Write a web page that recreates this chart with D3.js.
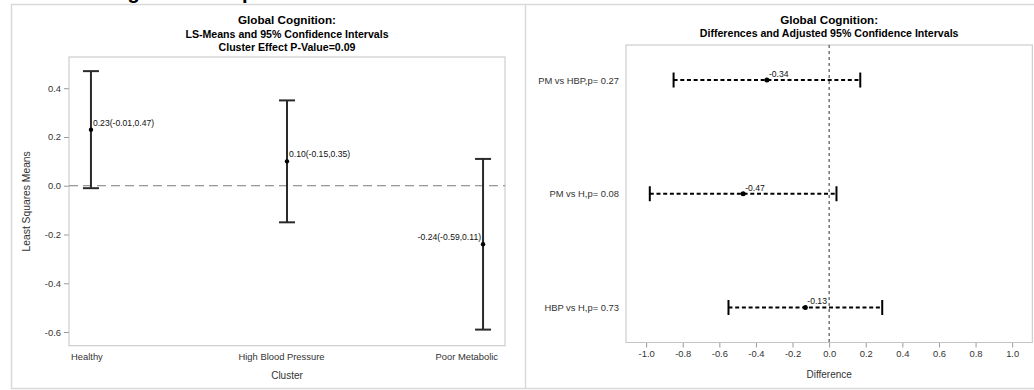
<!DOCTYPE html>
<html>
<head>
<meta charset="utf-8">
<script src="https://cdn.jsdelivr.net/npm/d3@7"></script>
<style>
  html, body { margin: 0; padding: 0; background: #fff; }
  svg { display: block; font-family: "Liberation Sans", Arial, sans-serif; }
</style>
</head>
<body>
<svg id="chart" width="1034" height="390"></svg>
<script>
// Least-squares means by cluster, with 95% confidence limits
const clusters = ["Healthy", "High Blood Pressure", "Poor Metabolic"];
const lsMeans = [0.23, 0.10, -0.24];
const lsLower = [-0.01, -0.15, -0.59];
const lsUpper = [0.47, 0.35, 0.11];
const lsTicks = [-0.6, -0.4, -0.2, 0.0, 0.2, 0.4];

// Pairwise differences with adjusted 95% confidence limits
const comparisons = ["PM vs HBP", "PM vs H", "HBP vs H"];
const pValues = ["0.27", "0.08", "0.73"];
const diffs = [-0.34, -0.47, -0.13];
const diffLower = [-0.85, -0.98, -0.55];
const diffUpper = [0.17, 0.04, 0.29];
const diffTicks = [-1.0, -0.8, -0.6, -0.4, -0.2, 0.0, 0.2, 0.4, 0.6, 0.8, 1.0];

const svg = d3.select("#chart");
const fmt1 = d => d.toFixed(1);
const fmt2 = d => d.toFixed(2);

// Page title (sits above the top edge of the page)
svg.append("text")
  .attr("x", 33).attr("y", -1)
  .attr("font-size", 20).attr("font-weight", "bold").attr("fill", "#000")
  .text("Global Cognitive Composite");

// Outer frames
const frame = svg.append("g").attr("stroke", "#d9d9d9").attr("stroke-width", 1.5).attr("fill", "none");
frame.append("line").attr("x1", 11).attr("x2", 1034).attr("y1", 4.5).attr("y2", 4.5);
frame.append("line").attr("x1", 11).attr("x2", 1034).attr("y1", 388.5).attr("y2", 388.5);
frame.append("line").attr("x1", 11.5).attr("x2", 11.5).attr("y1", 4).attr("y2", 389);
frame.append("line").attr("x1", 525.5).attr("x2", 525.5).attr("y1", 4).attr("y2", 389);

// ---------------- Left panel: LS-means ----------------
const L = { left: 69, right: 505, top: 57, bottom: 345.7 };
const xL = d3.scalePoint().domain(clusters).range([L.left, L.right]).padding(0.112);
const yL = d3.scaleLinear().domain([-0.656, 0.528]).range([L.bottom, L.top]);

const left = svg.append("g");
const titleL = left.append("g").attr("text-anchor", "middle").attr("font-weight", "bold").attr("fill", "#000");
const cxL = (L.left + L.right) / 2;
titleL.append("text").attr("x", cxL).attr("y", 24).attr("font-size", 11.7).text("Global Cognition:");
titleL.append("text").attr("x", cxL).attr("y", 37.5).attr("font-size", 10.6).text("LS-Means and 95% Confidence Intervals");
titleL.append("text").attr("x", cxL).attr("y", 50.5).attr("font-size", 10.6).text("Cluster Effect P-Value=0.09");

// y axis
const yAxisL = left.append("g").attr("transform", `translate(${L.left},0)`)
  .call(d3.axisLeft(yL).tickValues(lsTicks).tickFormat(fmt1).tickSize(5).tickPadding(3));
yAxisL.select(".domain").remove();
yAxisL.selectAll("line").attr("stroke", "#999");
yAxisL.selectAll("text").attr("font-size", 9.4).attr("fill", "#333").attr("font-family", null);

// x axis (category labels kept inside the plot width)
const xAxisL = left.append("g").attr("transform", `translate(0,${L.bottom})`)
  .call(d3.axisBottom(xL).tickSize(0).tickPadding(8));
xAxisL.select(".domain").remove();
xAxisL.selectAll("text").attr("font-size", 9.4).attr("fill", "#333").attr("font-family", null)
  .each(function () {
    const t = d3.select(this);
    const tx = +d3.select(this.parentNode).attr("transform").match(/translate\(([^,]+)/)[1];
    const w = this.getComputedTextLength();
    const maxRight = L.right - 7, minLeft = L.left + 2;
    let dx = -6;
    if (tx + dx + w / 2 > maxRight) dx = maxRight - (tx + w / 2);
    if (tx + dx - w / 2 < minLeft) dx = minLeft - (tx - w / 2);
    t.attr("dx", dx);
  });

// plot frame
left.append("rect")
  .attr("x", L.left).attr("y", L.top)
  .attr("width", L.right - L.left).attr("height", L.bottom - L.top)
  .attr("fill", "none").attr("stroke", "#c4c4c4").attr("stroke-width", 1);

// zero reference
left.append("line")
  .attr("x1", L.left).attr("x2", L.right)
  .attr("y1", yL(0)).attr("y2", yL(0))
  .attr("stroke", "#7a7a7a").attr("stroke-width", 1).attr("stroke-dasharray", "9,5");

// axis titles
left.append("text")
  .attr("transform", `translate(30,${(L.top + L.bottom) / 2}) rotate(-90)`)
  .attr("text-anchor", "middle").attr("font-size", 10.3).attr("fill", "#333")
  .text("Least Squares Means");
left.append("text")
  .attr("x", cxL).attr("y", 378.5)
  .attr("text-anchor", "middle").attr("font-size", 10).attr("fill", "#333")
  .text("Cluster");

// error bars
const lsData = clusters.map((c, i) => ({ c, m: lsMeans[i], lo: lsLower[i], hi: lsUpper[i] }));
const bars = left.append("g").attr("stroke", "#2a2a2a").attr("stroke-width", 2);
lsData.forEach(d => {
  const x = xL(d.c);
  bars.append("line").attr("x1", x).attr("x2", x).attr("y1", yL(d.lo)).attr("y2", yL(d.hi));
  bars.append("line").attr("x1", x - 8).attr("x2", x + 8).attr("y1", yL(d.lo)).attr("y2", yL(d.lo));
  bars.append("line").attr("x1", x - 8).attr("x2", x + 8).attr("y1", yL(d.hi)).attr("y2", yL(d.hi));
});
left.append("g").selectAll("circle").data(lsData).join("circle")
  .attr("cx", d => xL(d.c)).attr("cy", d => yL(d.m)).attr("r", 2.2).attr("fill", "#000");

// value labels
left.append("g").selectAll("text").data(lsData).join("text")
  .attr("font-size", 8.6).attr("fill", "#111")
  .attr("text-anchor", (d, i) => i === lsData.length - 1 ? "end" : "start")
  .attr("x", (d, i) => xL(d.c) + (i === lsData.length - 1 ? -2 : 2))
  .attr("y", d => yL(d.m) - 4)
  .text(d => `${fmt2(d.m)}(${fmt2(d.lo)},${fmt2(d.hi)})`);

// ---------------- Right panel: differences ----------------
const R = { left: 626, right: 1032.3, top: 45, bottom: 342.5 };
const labels = comparisons.map((c, i) => `${c},p= ${pValues[i]}`);
const xR = d3.scaleLinear().domain([-1.11, 1.11]).range([R.left, R.right]);
const yR = d3.scalePoint().domain(labels).range([R.top, R.bottom]).padding(0.308);

const right = svg.append("g");
const cxR = (R.left + R.right) / 2;
const titleR = right.append("g").attr("text-anchor", "middle").attr("font-weight", "bold").attr("fill", "#000");
titleR.append("text").attr("x", cxR).attr("y", 24).attr("font-size", 11.7).text("Global Cognition:");
titleR.append("text").attr("x", cxR).attr("y", 37).attr("font-size", 10.6).text("Differences and Adjusted 95% Confidence Intervals");

const xAxisR = right.append("g").attr("transform", `translate(0,${R.bottom})`)
  .call(d3.axisBottom(xR).tickValues(diffTicks).tickFormat(fmt1).tickSize(5).tickPadding(3));
xAxisR.select(".domain").remove();
xAxisR.selectAll("line").attr("stroke", "#999");
xAxisR.selectAll("text").attr("font-size", 9.4).attr("fill", "#333").attr("font-family", null);

const yAxisR = right.append("g").attr("transform", `translate(${R.left},0)`)
  .call(d3.axisLeft(yR).tickSize(0).tickPadding(7));
yAxisR.select(".domain").remove();
yAxisR.selectAll("text").attr("font-size", 9.4).attr("fill", "#333").attr("font-family", null);

right.append("rect")
  .attr("x", R.left).attr("y", R.top)
  .attr("width", R.right - R.left).attr("height", R.bottom - R.top)
  .attr("fill", "none").attr("stroke", "#c4c4c4").attr("stroke-width", 1);

right.append("text")
  .attr("x", cxR).attr("y", 378)
  .attr("text-anchor", "middle").attr("font-size", 10).attr("fill", "#333")
  .text("Difference");

// zero reference
right.append("line")
  .attr("x1", xR(0)).attr("x2", xR(0))
  .attr("y1", R.top).attr("y2", R.bottom)
  .attr("stroke", "#444").attr("stroke-width", 1.1).attr("stroke-dasharray", "3,3");

const dData = labels.map((l, i) => ({ l, d: diffs[i], lo: diffLower[i], hi: diffUpper[i] }));
const dg = right.append("g");
dData.forEach(d => {
  const y = yR(d.l);
  dg.append("line").attr("x1", xR(d.lo)).attr("x2", xR(d.hi)).attr("y1", y).attr("y2", y)
    .attr("stroke", "#000").attr("stroke-width", 2).attr("stroke-dasharray", "4,2.7");
  [d.lo, d.hi].forEach(v => {
    dg.append("line").attr("x1", xR(v)).attr("x2", xR(v)).attr("y1", y - 7.5).attr("y2", y + 7.5)
      .attr("stroke", "#000").attr("stroke-width", 2);
  });
});
right.append("g").selectAll("circle").data(dData).join("circle")
  .attr("cx", d => xR(d.d)).attr("cy", d => yR(d.l)).attr("r", 2.5).attr("fill", "#000");
right.append("g").selectAll("text").data(dData).join("text")
  .attr("font-size", 8.6).attr("fill", "#111")
  .attr("x", d => xR(d.d) + 2).attr("y", d => yR(d.l) - 3)
  .text(d => fmt2(d.d));
</script>
</body>
</html>
